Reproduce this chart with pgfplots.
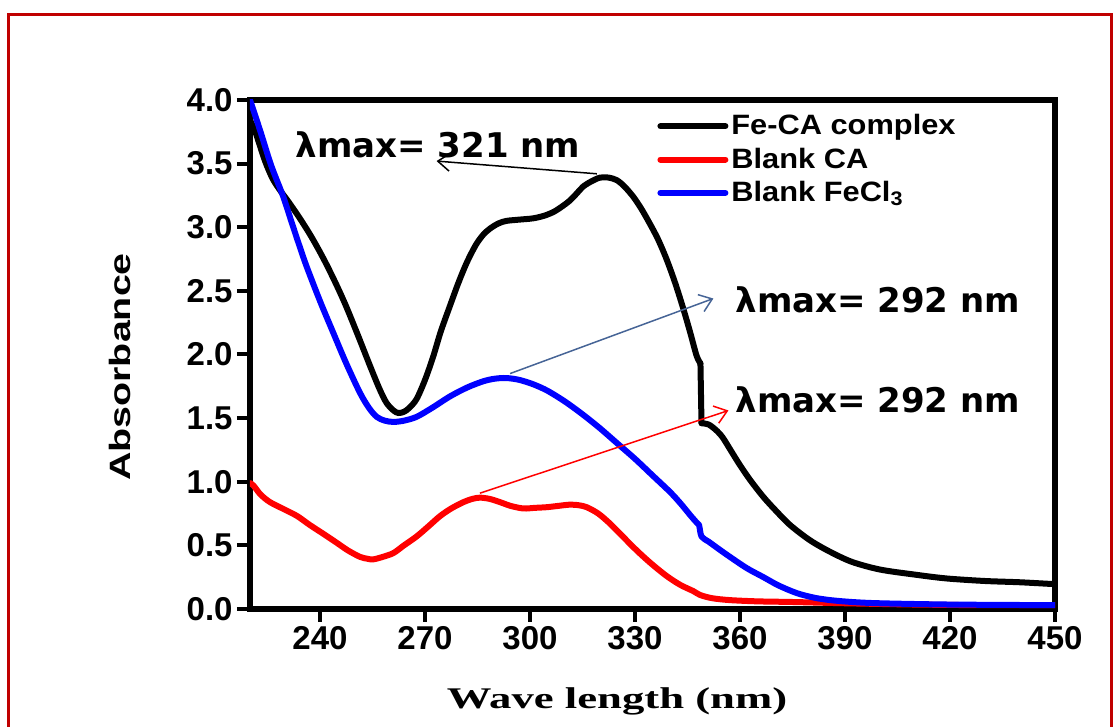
\documentclass[border=0pt]{standalone}
\usepackage{fontspec}
\setmainfont{Liberation Sans}
\newfontfamily\serifbf{Liberation Serif}
\newfontfamily\annfont{DejaVu Sans}
\usepackage{pgfplots}
\pgfplotsset{compat=1.18}
\usetikzlibrary{arrows.meta}
\definecolor{framered}{RGB}{192,0,0}
\definecolor{steel}{RGB}{70,100,150}

\begin{document}
\begin{tikzpicture}
\begin{axis}[
    scale only axis,
    width=402.5pt, height=254.5pt,
    xmin=220, xmax=450, ymin=0, ymax=4,
    xtick={240,270,...,450},
    ytick={0,0.5,...,4},
    yticklabel style={/pgf/number format/.cd, fixed, fixed zerofill, precision=1},
    /pgf/number format/assume math mode=true,
    tick label style={font=\fontsize{16.5}{19}\selectfont\bfseries, inner sep=2pt},
    tick pos=left, tick align=outside, major tick length=6.5pt,
    tick style={line width=2pt, black},
    axis line style={line width=3pt},
    xlabel={\serifbf\bfseries\fontsize{15}{18}\selectfont\scalebox{1.49}[1]{Wave length (nm)}},
    xlabel style={at={(axis description cs:0.456,-0.181)}, anchor=center},
    ylabel={\scalebox{1.34}[1]{Absorbance}},
    ylabel style={font=\fontsize{14.7}{17}\selectfont\bfseries, at={(axis description cs:-0.1615,0.4754)}, anchor=center},
    legend cell align=left,
    legend style={draw=none, fill=none, inner sep=0pt, at={(axis description cs:0.5056,0.978)}, anchor=north west,
        font=\fontsize{14}{16}\selectfont\bfseries, nodes={inner sep=1.5pt}, row sep=2pt},
    legend image code/.code={\draw[#1, line width=3pt] (0pt,0pt) -- (32.5pt,0pt);},
    every axis plot/.append style={line width=3pt, line join=round, line cap=round},
]
% Fe-CA complex
\addplot[black, smooth, tension=0.5] coordinates {
(220,3.84) (221.4,3.76) (224.3,3.52) (226.5,3.38) (228.6,3.29) (231,3.20) (234,3.08)
(237,2.95) (239.5,2.83) (242,2.70) (245,2.53) (247.6,2.37) (251,2.14) (254.3,1.91)
(257,1.73) (259,1.62) (261,1.56) (262.4,1.54) (264,1.55) (265.5,1.58) (267.6,1.65)
(270,1.80) (272.3,1.98) (274.5,2.18) (277.1,2.38) (279.5,2.56) (281.9,2.72) (284.5,2.86)
(286.6,2.94) (288.6,2.99) (291,3.03) (293.3,3.05) (297,3.06) (300.9,3.07) (304,3.09)
(306.7,3.12) (309,3.16) (311.4,3.21) (313.5,3.27) (315.2,3.32) (317.5,3.36) (320,3.39)
(322.5,3.39) (324.8,3.37) (327,3.32) (329.5,3.24) (331.7,3.15) (334,3.04) (336.5,2.91)
(339,2.75) (341.5,2.56) (343.8,2.36) (345.8,2.17) (347.6,1.99) (348.7,1.93)
};
\addlegendentry{\scalebox{1.1}[1]{Fe-CA complex}}
\addplot[black, forget plot] coordinates {(348.7,1.93) (349.0,1.46)};
\addplot[black, smooth, tension=0.5, forget plot] coordinates {
(349.0,1.46) (351,1.45) (353,1.41) (355,1.35) (357.5,1.24) (360,1.13) (363,1.01)
(366.7,0.88) (370,0.78) (374.3,0.66) (380,0.54) (385.7,0.45) (392,0.37)
(400,0.31) (410,0.27) (419,0.24) (430,0.22) (440,0.21) (450,0.195)
};
% Blank CA
\addplot[red, smooth, tension=0.5] coordinates {
(220,0.99) (221,0.97) (223,0.90) (225.7,0.84) (230,0.78) (233.5,0.73) (237.1,0.66)
(241,0.59) (244.8,0.52) (248,0.46) (251.4,0.41) (253.5,0.395) (255.2,0.39) (258,0.41)
(261,0.44) (264,0.50) (267.6,0.57) (271,0.65) (274.3,0.73) (277.5,0.79) (281,0.84)
(283.5,0.865) (285.7,0.875) (288.5,0.865) (291.4,0.84) (294.5,0.81) (298.1,0.79)
(301.5,0.795) (304.8,0.80) (308,0.81) (311.4,0.82) (314,0.815) (316.2,0.80) (319.5,0.75)
(322.9,0.67) (326.5,0.57) (330.5,0.46) (334.5,0.36) (339,0.26) (342.9,0.19) (346.7,0.14)
(348.6,0.11) (352,0.085) (357,0.07) (365,0.06) (375,0.055) (390,0.045) (410,0.035)
(430,0.03) (450,0.03)
};
\addlegendentry{\scalebox{1.1}[1]{Blank CA}}
% Blank FeCl3
\addplot[blue, smooth, tension=0.5] coordinates {
(220,4.00) (222.9,3.76) (226,3.49) (229.5,3.24) (232,3.03) (234.3,2.84) (236.2,2.69)
(240,2.42) (243.8,2.17) (247.5,1.93) (251.4,1.70) (254,1.58) (256.2,1.51) (258.5,1.48)
(261,1.47) (264,1.48) (267.6,1.51) (272,1.58) (277.1,1.67) (282,1.74) (286.7,1.79)
(290,1.81) (293.3,1.815) (297,1.80) (301,1.765) (305,1.715) (310,1.63) (315,1.53)
(320,1.42) (325,1.30) (330,1.18) (335,1.05) (340,0.92) (343,0.83) (346,0.73)
(347.6,0.68) (348.3,0.66) (349.0,0.57) (351,0.53) (354,0.47) (357.1,0.41) (362,0.32)
(366.7,0.25) (371,0.185) (376.2,0.125) (381,0.09) (385.7,0.07) (392,0.055) (400,0.045)
(420,0.035) (450,0.03)
};
\addlegendentry{\scalebox{1.1}[1]{Blank FeCl\textsubscript{3}}}
% annotations
\draw[black, line width=0.75pt, -{Straight Barb[length=6pt,width=9pt]}] (axis cs:319.1,3.42) -- (axis cs:273.3,3.52);
\draw[steel, line width=0.75pt, -{Straight Barb[length=6pt,width=9pt]}] (axis cs:294.3,1.85) -- (axis cs:352.4,2.44);
\draw[red, line width=0.75pt, -{Straight Barb[length=6pt,width=9pt]}] (axis cs:285.7,0.91) -- (axis cs:356.7,1.56);
\node[anchor=west, inner sep=0pt, font=\annfont\bfseries\fontsize{17}{20}\selectfont] at (axis cs:232.9,3.646) {λmax= 321 nm};
\node[anchor=west, inner sep=0pt, font=\annfont\bfseries\fontsize{17}{20}\selectfont] at (axis cs:358.6,2.428) {λmax= 292 nm};
\node[anchor=west, inner sep=0pt, font=\annfont\bfseries\fontsize{17}{20}\selectfont] at (axis cs:358.6,1.642) {λmax= 292 nm};
\end{axis}
\draw[framered, line width=1.5pt] (-120.5pt,-62pt) -- (-120.5pt,297pt) -- (430.5pt,297pt) -- (430.5pt,-62pt);
\pgfresetboundingbox
\useasboundingbox (-125pt,-59pt) rectangle (432.5pt,304.5pt);
\end{tikzpicture}
\end{document}
